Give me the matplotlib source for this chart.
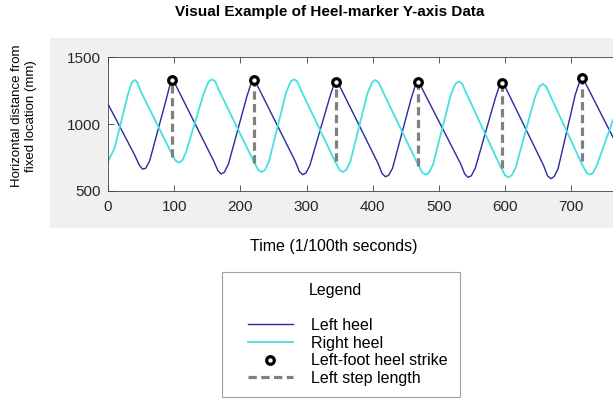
import numpy as np
import matplotlib
matplotlib.use("Agg")
import matplotlib.pyplot as plt
from matplotlib.patches import Rectangle

plt.rcParams['font.family'] = ['Liberation Sans', 'DejaVu Sans']

# ---- data ----
left_t = [0, 40, 47, 52, 57, 63, 88, 93, 97, 101,
          160, 166, 171, 176, 182, 210, 216, 220, 224,
          283, 289, 294, 299, 305, 335, 341, 345, 349,
          408, 414, 419, 424, 430, 458, 464, 468, 472,
          533, 539, 544, 549, 555, 585, 591, 595, 599,
          658, 664, 669, 674, 680, 706, 712, 716, 720, 763]
left_y = [1150, 770, 695, 662, 668, 725, 1185, 1282, 1328, 1305,
          720, 650, 625, 640, 700, 1210, 1300, 1330, 1305,
          720, 645, 620, 632, 690, 1200, 1290, 1318, 1295,
          705, 630, 605, 615, 670, 1190, 1285, 1315, 1290,
          700, 625, 600, 612, 670, 1190, 1280, 1310, 1290,
          690, 612, 590, 605, 665, 1220, 1310, 1343, 1320, 900]

right_t = [0, 10, 30, 36, 40, 44, 50,
           95, 102, 107, 112, 118, 145, 152, 157, 162, 168,
           220, 227, 232, 237, 243, 269, 276, 281, 286, 292,
           343, 350, 355, 360, 366, 392, 399, 404, 409, 415,
           468, 475, 480, 485, 491, 518, 525, 530, 535, 541,
           593, 600, 605, 610, 616, 645, 652, 657, 662, 668,
           716, 723, 728, 733, 739, 763]
right_y = [720, 820, 1220, 1310, 1330, 1315, 1240,
           790, 725, 710, 725, 790, 1235, 1318, 1335, 1318, 1250,
           720, 655, 640, 655, 715, 1235, 1318, 1335, 1318, 1250,
           720, 655, 640, 655, 715, 1230, 1312, 1330, 1312, 1245,
           700, 635, 620, 635, 695, 1220, 1302, 1320, 1302, 1235,
           680, 615, 600, 615, 675, 1200, 1282, 1300, 1282, 1215,
           700, 635, 620, 635, 695, 1030]

strike_t = [97, 220, 345, 468, 595, 716]
strike_y = [1330, 1330, 1318, 1315, 1310, 1343]
step_bottom = [755, 705, 725, 688, 672, 725]

xticks = [0, 100, 200, 300, 400, 500, 600, 700]
yticks = [500, 1000, 1500]

W, H = 613, 400
fig = plt.figure(figsize=(W / 100, H / 100), dpi=100)

# gray figure-style background behind the axes
fig.add_artist(Rectangle((50 / W, 1 - 228 / H), 1 - 50 / W, 190 / H,
                         transform=fig.transFigure, facecolor='#f0f0f0',
                         edgecolor='none', zorder=0))

ax = fig.add_axes([108 / W, 1 - 190.7 / H, (W - 108) / W, 133.4 / H])
ax.set_facecolor('white')
l1, = ax.plot(left_t, left_y, color='#2a2a9e', lw=1.0)
l2, = ax.plot(right_t, right_y, color='#45e0e0', lw=1.3)
for t, y0, y1 in zip(strike_t, step_bottom, strike_y):
    l4, = ax.plot([t, t], [y0, y1], color='#808080', lw=2.3,
                  dashes=(2.6, 1.4), zorder=3)
l3, = ax.plot(strike_t, strike_y, 'o', ms=5.5, mew=2.3, mec='black',
              mfc='white', zorder=4)

ax.set_xlim(0, 763)
ax.set_ylim(500, 1500)
ax.set_xticks(xticks)
ax.set_yticks(yticks)
ax.tick_params(direction='in', length=4, width=0.6, color='#404040',
               labelcolor='#262626', labelsize=11, top=True)
ax.tick_params(axis='x', pad=7)
ax.tick_params(axis='y', pad=5)
ax.spines['right'].set_visible(False)
for s in ['left', 'top', 'bottom']:
    ax.spines[s].set_color('#404040')
    ax.spines[s].set_linewidth(0.6)

fig.text(330 / W, 1 - 12 / H, 'Visual Example of Heel-marker Y-axis Data',
         ha='center', va='center', fontsize=11, fontweight='bold')
fig.text(24 / W, 1 - 116 / H, 'Horizontal distance from\nfixed location (mm)',
         ha='center', va='center', rotation=90, fontsize=9.5,
         linespacing=1.3)
fig.text(334 / W, 1 - 246 / H, 'Time (1/100th seconds)',
         ha='center', va='center', fontsize=11.5)

# legend box
fig.add_artist(Rectangle((222 / W, 1 - 397 / H), 238 / W, 125 / H,
                         transform=fig.transFigure, facecolor='white',
                         edgecolor='#a0a0a0', lw=0.8, zorder=1))
fig.text(309 / W, 1 - 290 / H, 'Legend', ha='left', va='center', fontsize=11.5)
leg = fig.legend([l1, l2, l3, l4],
                 ['Left heel', 'Right heel', 'Left-foot heel strike', 'Left step length'],
                 loc='upper left', bbox_to_anchor=(248 / W, 1 - 318 / H),
                 frameon=False, fontsize=11.5, borderpad=0, borderaxespad=0,
                 handlelength=2.8, handletextpad=1.15, labelspacing=0.16,
                 numpoints=1)

fig.savefig('out.png', dpi=100)
